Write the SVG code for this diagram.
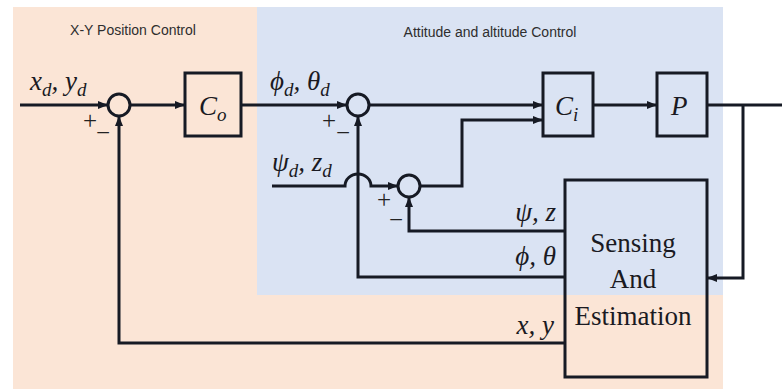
<svg xmlns="http://www.w3.org/2000/svg" width="782" height="390" viewBox="0 0 782 390">
<defs>
<style>
.ln{fill:none;stroke:#161a24;stroke-width:3;stroke-linejoin:miter}
.bx{fill:none;stroke:#161a24;stroke-width:3}
.sj{fill:none;stroke:#161a24;stroke-width:3}
.ttl{font-family:"Liberation Sans",Arial,sans-serif;font-size:14px;fill:#2e2e2e}
.m{font-family:"Liberation Serif","DejaVu Serif",serif;font-style:italic;font-size:27px;fill:#1a1a22}
.sub{font-size:19px}
.sg{font-family:"Liberation Serif","DejaVu Serif",serif;font-size:25px;fill:#222222}
.se{font-family:"Liberation Serif","DejaVu Serif",serif;font-size:27px;fill:#1a1a22;text-anchor:middle}
</style>
<marker id="ah" markerWidth="10" markerHeight="8" refX="9" refY="4" orient="auto" markerUnits="userSpaceOnUse">
<path d="M0,0 L10,4 L0,8 Z" fill="#161a24"/>
</marker>
</defs>
<rect x="0" y="0" width="782" height="390" fill="#ffffff"/>
<g id="regions">
<rect x="13" y="7" width="710" height="382" fill="#fbe5d6"/>
<rect x="257" y="7" width="466" height="288" fill="#dae3f3"/>
<text class="ttl" x="133" y="35" text-anchor="middle">X-Y Position Control</text>
<text class="ttl" x="490" y="37" text-anchor="middle">Attitude and altitude Control</text>
</g>
<g id="connectors">
<path class="ln" d="M20,105 H107" marker-end="url(#ah)"/>
<path class="ln" d="M130,105 H184" marker-end="url(#ah)"/>
<path class="ln" d="M241,105 H346" marker-end="url(#ah)"/>
<path class="ln" d="M369,105 H542" marker-end="url(#ah)"/>
<path class="ln" d="M593,105 H656" marker-end="url(#ah)"/>
<path class="ln" d="M707,105 H782"/>
<path class="ln" d="M743,105 V278 H708" marker-end="url(#ah)"/>
<path class="ln" d="M272,186 H345 A13 12 0 0 1 371,186 H397" marker-end="url(#ah)"/>
<path class="ln" d="M420,186 H462 V120 H542" marker-end="url(#ah)"/>
<path class="ln" d="M565,231 H409 V198" marker-end="url(#ah)"/>
<path class="ln" d="M565,277 H358 V117" marker-end="url(#ah)"/>
<path class="ln" d="M565,343 H119 V117" marker-end="url(#ah)"/>
</g>
<g id="sum1">
<circle class="sj" cx="119" cy="105" r="11"/>
<text class="sg" x="83" y="129">+</text>
<text class="sg" x="96" y="141">−</text>
</g>
<g id="sum2">
<circle class="sj" cx="358" cy="105" r="11"/>
<text class="sg" x="322" y="129">+</text>
<text class="sg" x="336" y="141">−</text>
</g>
<g id="sum3">
<circle class="sj" cx="409" cy="186" r="11"/>
<text class="sg" x="377" y="208">+</text>
<text class="sg" x="389" y="228">−</text>
</g>
<g id="Co">
<rect class="bx" x="185" y="73" width="56" height="63"/>
<text class="m" x="199" y="115">C<tspan class="sub" dy="6">o</tspan></text>
</g>
<g id="Ci">
<rect class="bx" x="543" y="73" width="50" height="63"/>
<text class="m" x="555" y="115">C<tspan class="sub" dy="6">i</tspan></text>
</g>
<g id="P">
<rect class="bx" x="657" y="73" width="50" height="63"/>
<text class="m" x="671" y="115">P</text>
</g>
<g id="sensing">
<rect class="bx" x="565" y="180" width="142" height="197"/>
<text class="se" x="633" y="252">Sensing</text>
<text class="se" x="633" y="288">And</text>
<text class="se" x="633" y="325">Estimation</text>
</g>
<g id="labels">
<text class="m" x="30" y="90">x<tspan class="sub" dy="6">d</tspan><tspan dy="-6">, y</tspan><tspan class="sub" dy="6">d</tspan></text>
<text class="m" x="270" y="90">ϕ<tspan class="sub" dy="6">d</tspan><tspan dy="-6">, θ</tspan><tspan class="sub" dy="6">d</tspan></text>
<text class="m" x="272" y="171">ψ<tspan class="sub" dy="6">d</tspan><tspan dy="-6">, z</tspan><tspan class="sub" dy="6">d</tspan></text>
<text class="m" x="556" y="221" text-anchor="end">ψ, z</text>
<text class="m" x="556" y="265" text-anchor="end">ϕ, θ</text>
<text class="m" x="554" y="334" text-anchor="end">x, y</text>
</g>
</svg>
